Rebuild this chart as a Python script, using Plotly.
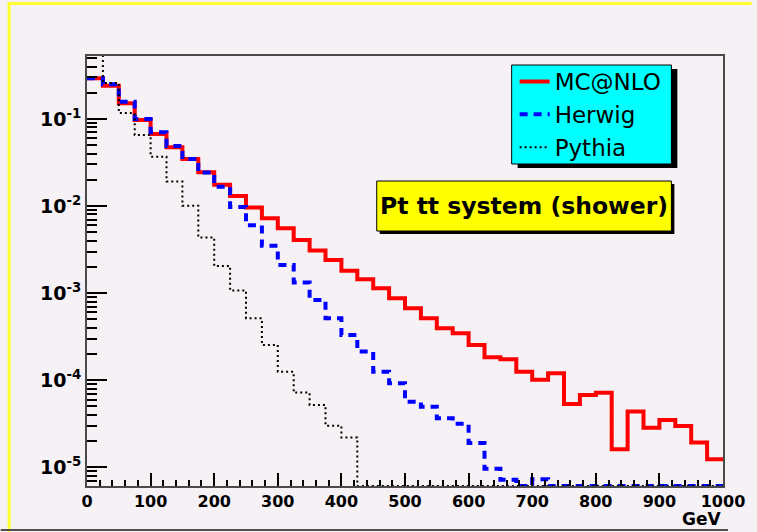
import plotly.graph_objects as go

# Pt of the tt system, 25 GeV bins from 0 to 1000 GeV
bin_edges = [25 * i for i in range(41)]

mcatnlo = [0.293, 0.241, 0.151, 0.0975, 0.0673, 0.0473, 0.0347, 0.0244, 0.0175, 0.0130,
           0.0096, 0.00724, 0.00556, 0.00408, 0.00308, 0.00240, 0.00181, 0.00144, 0.00114, 0.000873,
           0.000670, 0.000514, 0.000395, 0.000346, 0.000254, 0.000184, 0.000174, 0.000125, 0.000101, 0.000120,
           5.33e-5, 6.76e-5, 7.19e-5, 1.61e-5, 4.36e-5, 2.85e-5, 3.49e-5, 2.98e-5, 1.92e-5, 1.24e-5]

herwig = [0.293, 0.250, 0.158, 0.100, 0.0703, 0.0490, 0.0347, 0.0242, 0.0167, 0.00975,
          0.0060, 0.00349, 0.00211, 0.00132, 0.000836, 0.000514, 0.000331, 0.000213, 0.000125, 9.2e-5,
          5.67e-5, 4.96e-5, 3.65e-5, 3.17e-5, 1.9e-5, 9.6e-6, 7.2e-6, 0, 7.3e-6, 0,
          0, 0, 0, 0, 0, 0, 0, 0, 0, 0]

pythia = [0.9, 0.259, 0.117, 0.0655, 0.0369, 0.0191, 0.0101, 0.00436, 0.00205, 0.00107,
          0.000514, 0.000254, 0.000125, 7.2e-5, 5.2e-5, 3.0e-5, 2.2e-5, 0, 0, 0,
          0, 0, 0, 0, 0, 0, 0, 0, 0, 0,
          0, 0, 0, 0, 0, 0, 0, 0, 0, 0]

x_ticks = list(range(0, 1001, 100))
y_ticks = [1e-5, 1e-4, 1e-3, 1e-2, 1e-1]
y_tick_text = ["10<sup>-5</sup>", "10<sup>-4</sup>", "10<sup>-3</sup>", "10<sup>-2</sup>", "10<sup>-1</sup>"]

Y_LOG_RANGE = [-5.215, -0.277]
floor = 10 ** Y_LOG_RANGE[0]

W, H = 757, 532
ML, MR, MT, MB = 87, 29, 56, 46
PW, PH = W - ML - MR, H - MT - MB
BG = "#F5F1F5"


def px(x):
    return (x - ML) / PW


def py(y):
    return (H - MB - y) / PH


def hist_xy(values):
    # empty bins sit on the bottom of the frame, as in a log-scale histogram
    ys = [v if v > 0 else floor for v in values]
    return bin_edges, ys + [ys[-1]]


fig = go.Figure()
for name, vals, color, width, dash in [
    ("MC@NLO", mcatnlo, "#FF0000", 4, "solid"),
    ("Herwig", herwig, "#0000FF", 4, "8px,6px"),
    ("Pythia", pythia, "#000000", 2, "2px,3px"),
]:
    xs, ys = hist_xy(vals)
    fig.add_trace(go.Scatter(x=xs, y=ys, mode="lines", name=name,
                             line=dict(color=color, width=width, dash=dash, shape="hv")))

minor_y = [k * 10 ** e for e in range(-6, 0) for k in range(2, 10)]

fig.update_layout(
    width=W, height=H, autosize=False,
    margin=dict(l=ML, r=MR, t=MT, b=MB),
    paper_bgcolor=BG, plot_bgcolor=BG,
    showlegend=True,
    legend=dict(x=px(518), y=py(60), xanchor="left", yanchor="top",
                bgcolor="rgba(0,0,0,0)", borderwidth=0,
                font=dict(family="DejaVu Sans", size=23, color="black")),
    xaxis=dict(range=[0, 1000], showgrid=False, zeroline=False,
               showline=True, linecolor="#4a4a4a", linewidth=2, mirror=True,
               ticks="inside", ticklen=13, tickwidth=1.5, tickcolor="black",
               tickmode="array", tickvals=x_ticks,
               minor=dict(ticks="inside", ticklen=6, tickwidth=1.5, tickcolor="black", dtick=20, showgrid=False),
               tickfont=dict(family="DejaVu Sans", size=16, color="black", weight="bold")),
    yaxis=dict(type="log", range=Y_LOG_RANGE, showgrid=False, zeroline=False,
               showline=True, linecolor="#4a4a4a", linewidth=2, mirror=True,
               ticks="inside", ticklen=20, tickwidth=1.5, tickcolor="black",
               tickmode="array", tickvals=y_ticks, ticktext=y_tick_text,
               minor=dict(ticks="inside", ticklen=10, tickwidth=1.5, tickcolor="black",
                          tickmode="array", tickvals=minor_y, showgrid=False),
               tickfont=dict(family="DejaVu Sans", size=19, color="black", weight="bold")),
)

shapes = [
    # legend box with drop shadow
    dict(type="rect", xref="paper", yref="paper", x0=px(521), x1=px(682), y0=py(69), y1=py(168),
         fillcolor="black", line=dict(width=0)),
    dict(type="rect", xref="paper", yref="paper", x0=px(515), x1=px(676), y0=py(65), y1=py(164),
         fillcolor="#00FFFF", line=dict(color="black", width=1)),
    # title box with drop shadow
    dict(type="rect", xref="paper", yref="paper", x0=px(382), x1=px(679), y0=py(184), y1=py(234),
         fillcolor="black", line=dict(width=0)),
    dict(type="rect", xref="paper", yref="paper", x0=px(379), x1=px(676), y0=py(181), y1=py(231),
         fillcolor="#FFFF00", line=dict(color="black", width=1)),
    # canvas edges
    dict(type="rect", xref="paper", yref="paper", x0=px(7), x1=px(757), y0=py(2), y1=py(5),
         fillcolor="#FFFF30", line=dict(width=0)),
    dict(type="rect", xref="paper", yref="paper", x0=px(7), x1=px(10), y0=py(2), y1=py(532),
         fillcolor="#FFFF30", line=dict(width=0)),
    dict(type="rect", xref="paper", yref="paper", x0=px(0), x1=px(733), y0=py(529), y1=py(531),
         fillcolor="#505050", line=dict(width=0)),
]
fig.update_layout(shapes=shapes)

fig.add_annotation(text="Pt tt system (shower)", xref="paper", yref="paper",
                   x=px(527.5), y=py(206), xanchor="center", yanchor="middle", showarrow=False,
                   font=dict(family="DejaVu Sans", size=23.5, color="black", weight="bold"))
fig.add_annotation(text="GeV", xref="paper", yref="paper",
                   x=1.0, y=py(519), xanchor="right", yanchor="middle", showarrow=False,
                   font=dict(family="DejaVu Sans", size=17, color="black", weight="bold"))

fig.write_html("out.html")
